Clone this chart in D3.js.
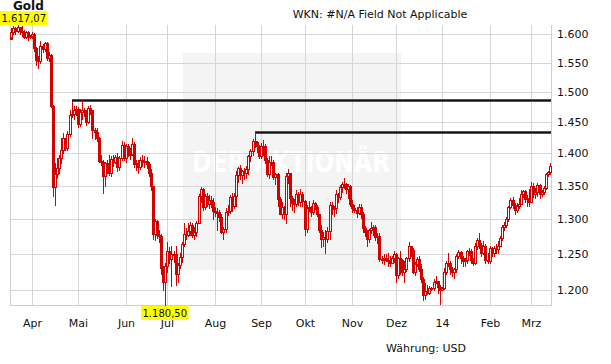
<!DOCTYPE html>
<html>
<head>
<meta charset="utf-8">
<script src="https://cdn.jsdelivr.net/npm/d3@7"></script>
<style>
  body { margin: 0; background: #fff; }
  svg { display: block; }
  text { font-family: "DejaVu Sans", Verdana, sans-serif; fill: #111; }
</style>
</head>
<body>
<div id="chart"></div>
<script>
// trading days Mar 18 2013 .. Mar 14 2014 (weekdays)
const dates = d3.timeDay.range(new Date(2013, 2, 18), new Date(2014, 2, 15))
    .filter(d => d.getDay() !== 0 && d.getDay() !== 6);

const prevClose = 1592;

const close = [
    1604, 1612, 1607, 1614, 1606, 1604, 1596, 1605, 1596, 1597,
    // Apr
    1600, 1575, 1554, 1553, 1580, 1574, 1585, 1558, 1564, 1476, 1348, 1368, 1377, 1392, 1405, 1424,
    1409, 1431, 1462, 1463, 1470, 1472,
    // Mai
    1446, 1467, 1470, 1466, 1450, 1473, 1469, 1437, 1434, 1425, 1388, 1386, 1365, 1384, 1377, 1369,
    1391, 1387, 1394, 1378, 1392, 1413, 1393,
    // Jun
    1412, 1398, 1399, 1415, 1383, 1385, 1378, 1390, 1387, 1388, 1383, 1369, 1349, 1278, 1297, 1277,
    1275, 1230, 1211, 1234,
    // Jul
    1254, 1243, 1250, 1250, 1223, 1235, 1246, 1264, 1279, 1277, 1283, 1292, 1277, 1281, 1295, 1334,
    1345, 1318, 1335, 1322, 1328, 1325, 1312,
    // Aug
    1311, 1310, 1303, 1282, 1286, 1311, 1312, 1333, 1319, 1334, 1366, 1377, 1366, 1372, 1370, 1376,
    1395, 1403, 1419, 1418, 1411, 1396,
    // Sep
    1412, 1411, 1389, 1368, 1387, 1386, 1363, 1367, 1330, 1308, 1318, 1308, 1365, 1370, 1332, 1324,
    1322, 1337, 1325, 1338, 1327,
    // Okt
    1286, 1317, 1318, 1310, 1324, 1318, 1307, 1285, 1272, 1274, 1272, 1283, 1321, 1315, 1316, 1337,
    1333, 1348, 1352, 1353, 1345, 1349, 1323,
    // Nov
    1316, 1314, 1309, 1318, 1308, 1287, 1281, 1271, 1284, 1287, 1288, 1274, 1275, 1243, 1243, 1244,
    1242, 1242, 1238, 1244, 1250,
    // Dez
    1221, 1245, 1242, 1225, 1229, 1244, 1261, 1256, 1225, 1236, 1243, 1229, 1215, 1194, 1199, 1197,
    1203, 1203, 1212, 1213, 1204, 1201,
    // Jan
    1203, 1225, 1238, 1237, 1229, 1225, 1229, 1248, 1253, 1245, 1241, 1242, 1254, 1254, 1242, 1238,
    1262, 1270, 1263, 1251, 1262, 1242, 1240,
    // Feb
    1259, 1252, 1258, 1257, 1262, 1273, 1289, 1292, 1301, 1318, 1328, 1321, 1313, 1319, 1323, 1337,
    1342, 1330, 1331, 1326,
    // Mrz
    1350, 1337, 1340, 1351, 1338, 1340, 1347, 1368, 1371, 1380
];

const high = [
    1611, 1615, 1614, 1617.07, 1614, 1616, 1608, 1607, 1606, 1599,
    1605, 1602, 1578, 1562, 1588, 1583, 1587, 1586, 1569, 1565, 1478, 1384, 1393, 1397, 1424, 1433,
    1425, 1435, 1470, 1484, 1477, 1477,
    1474, 1472, 1487, 1473, 1469, 1476, 1478, 1470, 1440, 1440, 1426, 1398, 1390, 1387, 1390, 1398,
    1395, 1397, 1397, 1400, 1395, 1420, 1418,
    1415, 1415, 1408, 1424, 1418, 1390, 1390, 1394, 1397, 1395, 1394, 1386, 1375, 1346, 1300, 1299,
    1284, 1279, 1233, 1238,
    1267, 1260, 1262, 1255, 1262, 1237, 1252, 1267, 1294, 1287, 1294, 1296, 1294, 1288, 1298, 1338,
    1348, 1346, 1338, 1339, 1336, 1335, 1331,
    1318, 1317, 1314, 1308, 1289, 1317, 1321, 1336, 1339, 1339, 1372, 1379, 1381, 1374, 1377, 1380,
    1398, 1406, 1423, 1433.8, 1420, 1413,
    1416, 1421, 1414, 1392, 1396, 1396, 1389, 1369, 1369, 1333, 1325, 1320, 1369, 1376, 1370, 1334,
    1330, 1343, 1340, 1345, 1341,
    1329, 1321, 1327, 1320, 1328, 1326, 1321, 1308, 1292, 1282, 1285, 1289, 1325, 1326, 1319, 1343,
    1339, 1351, 1355, 1361, 1354, 1352, 1351,
    1328, 1321, 1318, 1322, 1322, 1310, 1290, 1285, 1286, 1296, 1292, 1292, 1280, 1280, 1247, 1250,
    1250, 1252, 1248, 1248, 1254,
    1251, 1246, 1255, 1243, 1240, 1246, 1267, 1261, 1258, 1239, 1246, 1247, 1236, 1218, 1210, 1207,
    1206, 1204, 1215, 1219, 1213, 1208,
    1205, 1230, 1240, 1251, 1241, 1232, 1231, 1250, 1256, 1255, 1247, 1245, 1256, 1259, 1257, 1245,
    1265, 1273, 1280, 1265, 1268, 1264, 1251,
    1262, 1260, 1261, 1264, 1268, 1275, 1291, 1296, 1303, 1320, 1332, 1333, 1324, 1324, 1332, 1343,
    1344, 1343, 1336, 1345,
    1355, 1354, 1346, 1354, 1353, 1343, 1350, 1370, 1373, 1385
];

const low = [
    1597, 1600, 1600, 1604, 1601, 1598, 1593, 1594, 1590, 1594,
    1593, 1571, 1546, 1540, 1550, 1569, 1570, 1555, 1553, 1475, 1335, 1321, 1361, 1370, 1385, 1400,
    1405, 1405, 1428, 1459, 1455, 1462,
    1442, 1444, 1455, 1460, 1445, 1448, 1463, 1424, 1422, 1420, 1386, 1382, 1339, 1350, 1370, 1366,
    1365, 1380, 1385, 1372, 1374, 1390, 1390,
    1386, 1395, 1391, 1397, 1378, 1374, 1370, 1376, 1380, 1378, 1377, 1365, 1344, 1272, 1270, 1273,
    1267, 1222, 1200, 1180.5,
    1225, 1238, 1206, 1239, 1207, 1212, 1230, 1239, 1262, 1272, 1276, 1277, 1274, 1272, 1276, 1294,
    1325, 1313, 1315, 1319, 1317, 1318, 1300,
    1304, 1284, 1297, 1280, 1271, 1282, 1306, 1309, 1312, 1317, 1319, 1356, 1360, 1354, 1360, 1361,
    1368, 1388, 1397, 1410, 1402, 1393,
    1393, 1398, 1385, 1365, 1361, 1382, 1360, 1353, 1320, 1308, 1302, 1301, 1295, 1354, 1320, 1313,
    1311, 1319, 1321, 1320, 1320,
    1277, 1282, 1312, 1305, 1308, 1315, 1304, 1281, 1260, 1262, 1251, 1267, 1272, 1307, 1305, 1309,
    1326, 1330, 1341, 1346, 1339, 1331, 1319,
    1310, 1310, 1303, 1307, 1302, 1281, 1276, 1262, 1267, 1280, 1277, 1270, 1266, 1240, 1237, 1236,
    1240, 1234, 1234, 1238, 1239,
    1211, 1217, 1222, 1221, 1211, 1226, 1240, 1248, 1224, 1221, 1233, 1226, 1211, 1187, 1189, 1195,
    1195, 1201, 1200, 1210, 1196, 1182,
    1200, 1202, 1223, 1234, 1223, 1220, 1217, 1225, 1244, 1238, 1233, 1234, 1238, 1249, 1237, 1235,
    1236, 1257, 1258, 1248, 1250, 1238, 1238,
    1238, 1248, 1248, 1251, 1252, 1261, 1270, 1284, 1288, 1298, 1317, 1316, 1307, 1310, 1316, 1322,
    1333, 1325, 1320, 1320,
    1326, 1333, 1332, 1335, 1331, 1334, 1337, 1345, 1364, 1368
];

const open = close.map((c, i) => i === 0 ? prevClose : close[i - 1]);

// month labels on the first trading day of each month
const monthLabels = ["Apr", "Mai", "Jun", "Jul", "Aug", "Sep", "Okt", "Nov", "Dez", "14", "Feb", "Mrz"];
const yTicks = [1200, 1250, 1300, 1350, 1400, 1450, 1500, 1550, 1600];

// resistance lines: start day and level
const resistStart = [new Date(2013, 3, 26), new Date(2013, 7, 28)];
const resistLevel = [1487, 1434];

const title = "Gold";
const subtitle = "WKN: #N/A Field Not Applicable";
const currency = "Währung: USD";

const width = 611, height = 364;
const plotLeft = 10.3, plotRight = 551, plotTop = 25, plotBottom = 305;
const red = "#d40000";

const de = d3.formatLocale({ decimal: ",", thousands: ".", grouping: [3], currency: ["", " €"] });
const fmtTick = de.format(",");
const fmtPrice = de.format(",.2f");

const svg = d3.select("#chart").append("svg")
    .attr("width", width)
    .attr("height", height);

const x = d3.scaleBand()
    .domain(dates)
    .range([plotLeft, plotRight])
    .padding(0);

const y = d3.scaleLog()
    .domain([d3.min(low), d3.max(high)])
    .range([plotBottom, plotTop]);

const cx = d => Math.round(x(d) + x.bandwidth() / 2);
const py = v => Math.round(y(v));

const monthStarts = dates.filter((d, i) => i > 0 && d.getMonth() !== dates[i - 1].getMonth());

// watermark
svg.append("rect")
    .attr("x", 183).attr("y", 53)
    .attr("width", 218).attr("height", 217)
    .attr("fill", "#f4f4f4");
svg.append("text")
    .attr("x", 192).attr("y", 172)
    .attr("textLength", 198)
    .attr("lengthAdjust", "spacingAndGlyphs")
    .style("font-size", "29px")
    .style("font-weight", "bold")
    .style("fill", "#fff")
    .text("DER AKTIONÄR");

// grid
const grid = svg.append("g").attr("stroke", "#d6d6d6").attr("stroke-width", 1);
grid.selectAll(".hg")
    .data(yTicks)
    .enter().append("line")
    .attr("x1", plotLeft).attr("x2", plotRight)
    .attr("y1", d => py(d) + 0.5).attr("y2", d => py(d) + 0.5);
grid.selectAll(".vg")
    .data(monthStarts)
    .enter().append("line")
    .attr("x1", d => cx(d) + 0.5).attr("x2", d => cx(d) + 0.5)
    .attr("y1", plotTop).attr("y2", plotBottom);

// frame
const frame = svg.append("g").attr("stroke", "#cfcfcf").attr("stroke-width", 1);
frame.append("line")
    .attr("x1", Math.round(plotLeft) + 0.5).attr("x2", Math.round(plotLeft) + 0.5)
    .attr("y1", plotTop).attr("y2", plotBottom + 1);
frame.append("line")
    .attr("x1", plotRight + 0.5).attr("x2", plotRight + 0.5)
    .attr("y1", plotTop).attr("y2", plotBottom + 1);
frame.append("line")
    .attr("x1", plotLeft).attr("x2", plotRight + 1)
    .attr("y1", plotBottom + 0.5).attr("y2", plotBottom + 0.5);

// y labels
svg.append("g").selectAll("text")
    .data(yTicks)
    .enter().append("text")
    .attr("x", 557)
    .attr("y", d => py(d) + 4)
    .style("font-size", "11px")
    .text(d => fmtTick(d));

// x labels
svg.append("g").selectAll("text")
    .data(monthStarts)
    .enter().append("text")
    .attr("x", d => cx(d) + 0.5)
    .attr("y", 327)
    .attr("text-anchor", "middle")
    .style("font-size", "11px")
    .text((d, i) => monthLabels[i]);

// resistance lines
const res = svg.append("g");
resistLevel.forEach((lv, i) => {
    const x1 = cx(resistStart[i]);
    res.append("line")
        .attr("x1", x1).attr("x2", plotRight)
        .attr("y1", py(lv) + 0.5).attr("y2", py(lv) + 0.5)
        .attr("stroke", "#9a9a9a").attr("stroke-width", 3);
    res.append("line")
        .attr("x1", x1).attr("x2", plotRight)
        .attr("y1", py(lv) + 0.5).attr("y2", py(lv) + 0.5)
        .attr("stroke", "#111").attr("stroke-width", 1.8);
});

// candles
const candles = svg.append("g");
dates.forEach((d, i) => {
    const c = cx(d);
    const o = open[i], cl = close[i];
    const bt = py(Math.max(o, cl)), bb = py(Math.min(o, cl));
    if (cl >= o) {
        candles.append("line")
            .attr("x1", c + 0.5).attr("x2", c + 0.5)
            .attr("y1", py(high[i])).attr("y2", bt)
            .attr("stroke", red);
        candles.append("line")
            .attr("x1", c + 0.5).attr("x2", c + 0.5)
            .attr("y1", bb + 1).attr("y2", py(low[i]) + 1)
            .attr("stroke", red);
        candles.append("rect")
            .attr("x", c - 0.5).attr("y", bt + 0.5)
            .attr("width", 2).attr("height", Math.max(bb - bt, 1))
            .attr("fill", "none")
            .attr("stroke", red);
    } else {
        candles.append("line")
            .attr("x1", c + 0.5).attr("x2", c + 0.5)
            .attr("y1", py(high[i])).attr("y2", py(low[i]) + 1)
            .attr("stroke", red);
        candles.append("rect")
            .attr("x", c - 1).attr("y", bt)
            .attr("width", 3).attr("height", Math.max(bb - bt, 1) + 1)
            .attr("fill", red);
    }
});

// texts
svg.append("text")
    .attr("x", 13).attr("y", 10)
    .style("font-size", "12px")
    .style("font-weight", "bold")
    .text(title);

svg.append("text")
    .attr("x", 380).attr("y", 18)
    .attr("text-anchor", "middle")
    .style("font-size", "11px")
    .text(subtitle);

svg.append("text")
    .attr("x", 386).attr("y", 352)
    .style("font-size", "11px")
    .text(currency);

// high / low markers
function marker(v, cxPos, yTop) {
    const g = svg.append("g");
    const t = g.append("text")
        .attr("y", yTop + 10.5)
        .attr("text-anchor", "middle")
        .style("font-size", "10px")
        .text(fmtPrice(v));
    const w = t.node().getComputedTextLength() + 3;
    const x0 = Math.max(0, Math.round(cxPos - w / 2));
    t.attr("x", x0 + w / 2);
    g.insert("rect", "text")
        .attr("x", x0).attr("y", yTop)
        .attr("width", w).attr("height", 14)
        .attr("fill", "#ffff00");
}
const hiIdx = d3.maxIndex(high), loIdx = d3.minIndex(low);
marker(high[hiIdx], cx(dates[hiIdx]), plotTop - 14);
marker(low[loIdx], cx(dates[loIdx]), plotBottom + 1);
</script>
</body>
</html>
